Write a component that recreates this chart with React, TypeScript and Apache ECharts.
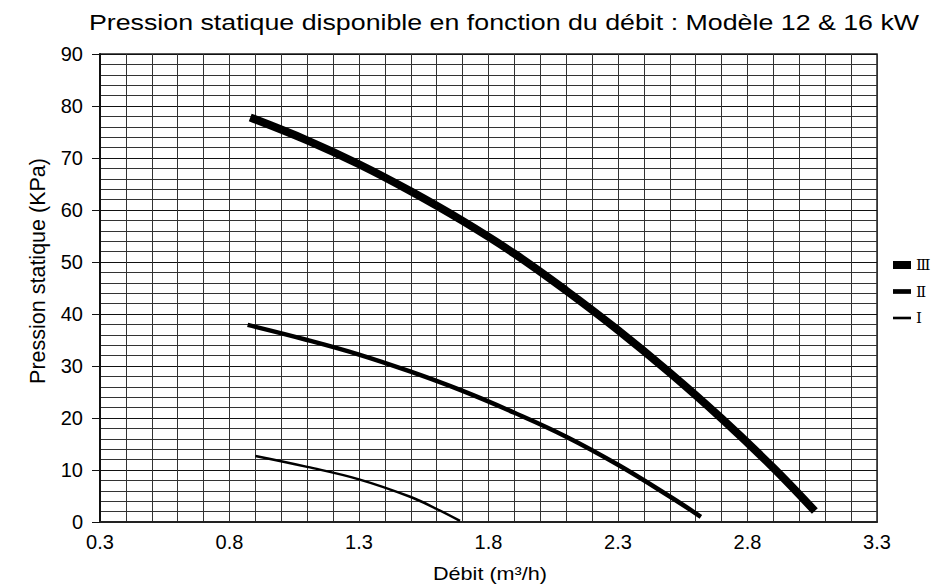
import React, { useEffect, useRef } from 'react';
import * as echarts from 'echarts';

const titleText = 'Pression statique disponible en fonction du débit : Modèle 12 & 16 kW';
const xName = 'Débit (m³/h)';
const yName = 'Pression statique (KPa)';
const seriesNames = ['Ⅲ', 'Ⅱ', 'Ⅰ'];
const lineWidths = [8, 4.5, 2.5];

const flowIII = [0.88, 1.1, 1.3, 1.5, 1.7, 1.9, 2.1, 2.3, 2.5, 2.7, 2.9, 3.06];
const pressIII = [77.8, 73.4, 68.8, 63.6, 57.9, 51.6, 44.5, 36.9, 28.7, 19.9, 10.4, 2.1];
const flowII = [0.87, 1.1, 1.3, 1.5, 1.7, 1.9, 2.1, 2.3, 2.5, 2.62];
const pressII = [37.9, 35.0, 32.2, 28.9, 25.2, 21.0, 16.4, 11.0, 4.9, 1.0];
const flowI = [0.9, 1.1, 1.3, 1.5, 1.6, 1.69];
const pressI = [12.7, 10.6, 8.2, 4.8, 2.5, 0.2];

const xTickLabels = [0.3, 0.8, 1.3, 1.8, 2.3, 2.8, 3.3];

const FONT = '"Liberation Sans", Arial, sans-serif';

export default function App() {
  const ref = useRef<HTMLDivElement>(null);
  useEffect(() => {
    if (!ref.current) return;
    const chart = echarts.init(ref.current, undefined, { renderer: 'svg' });
    const pairs = (xs: number[], ys: number[]) => xs.map((x, i) => [x, ys[i]]);
    const datasets = [pairs(flowIII, pressIII), pairs(flowII, pressII), pairs(flowI, pressI)];
    const legendTops = [252, 278.5, 305];
    const legendHeights = [8, 4.7, 2.6];
    chart.setOption({
      animation: false,
      backgroundColor: '#fff',
      textStyle: { fontFamily: FONT },
      grid: { left: 100, right: 54, top: 54, bottom: 63, show: true, borderColor: '#222', borderWidth: 1.5 },
      xAxis: {
        type: 'value',
        min: 0.3,
        max: 3.3,
        interval: 0.1,
        axisLine: { show: true, onZero: false, lineStyle: { color: '#222', width: 2 } },
        axisTick: { show: false },
        axisLabel: {
          margin: 10,
          fontSize: 20,
          fontFamily: FONT,
          color: '#000',
          formatter: (v: number) => (xTickLabels.some((t) => Math.abs(t - v) < 1e-6) ? v.toFixed(1) : ''),
        },
        splitLine: { show: true, lineStyle: { color: '#333', width: 1 } },
      },
      yAxis: {
        type: 'value',
        min: 0,
        max: 90,
        interval: 10,
        axisLine: { show: true, lineStyle: { color: '#111', width: 2 } },
        axisTick: { show: true, inside: false, length: 8, lineStyle: { color: '#111', width: 1 } },
        axisLabel: { margin: 17, fontSize: 20, fontFamily: FONT, color: '#000' },
        splitLine: { show: true, lineStyle: { color: '#111', width: 1 } },
        minorTick: { show: false, splitNumber: 5 },
        minorSplitLine: { show: true, lineStyle: { color: '#333', width: 1 } },
      },
      legend: seriesNames.map((n, i) => ({
        data: [n],
        left: 888,
        top: legendTops[i],
        itemWidth: 18,
        itemHeight: legendHeights[i],
        icon: 'rect',
        selectedMode: false,
        itemStyle: { color: '#000' },
        textStyle: { fontFamily: '"DejaVu Serif", "Noto Sans CJK JP", serif', fontSize: 15, color: '#000', lineHeight: 16 },
      })),
      graphic: [
        {
          type: 'text',
          x: 504,
          y: 22,
          scaleX: 1.19,
          style: { text: titleText, fontSize: 22.5, fontFamily: FONT, fill: '#000', align: 'center', verticalAlign: 'middle' },
        },
        {
          type: 'text',
          x: 490,
          y: 574,
          scaleX: 1.2,
          style: { text: xName, fontSize: 18, fontFamily: FONT, fill: '#000', align: 'center', verticalAlign: 'middle' },
        },
        {
          type: 'text',
          x: 38,
          y: 271,
          rotation: Math.PI / 2,
          style: { text: yName, fontSize: 21.5, fontFamily: FONT, fill: '#000', align: 'center', verticalAlign: 'middle' },
        },
      ],
      series: seriesNames.map((n, i) => ({
        name: n,
        type: 'line',
        smooth: 0.4,
        showSymbol: false,
        symbol: 'none',
        color: '#000',
        lineStyle: { color: '#000', width: lineWidths[i], cap: 'butt' },
        data: datasets[i],
      })),
    });
    return () => chart.dispose();
  }, []);
  return <div ref={ref} style={{ width: 931, height: 585, position: 'absolute', left: 0, top: 0 }} />;
}
